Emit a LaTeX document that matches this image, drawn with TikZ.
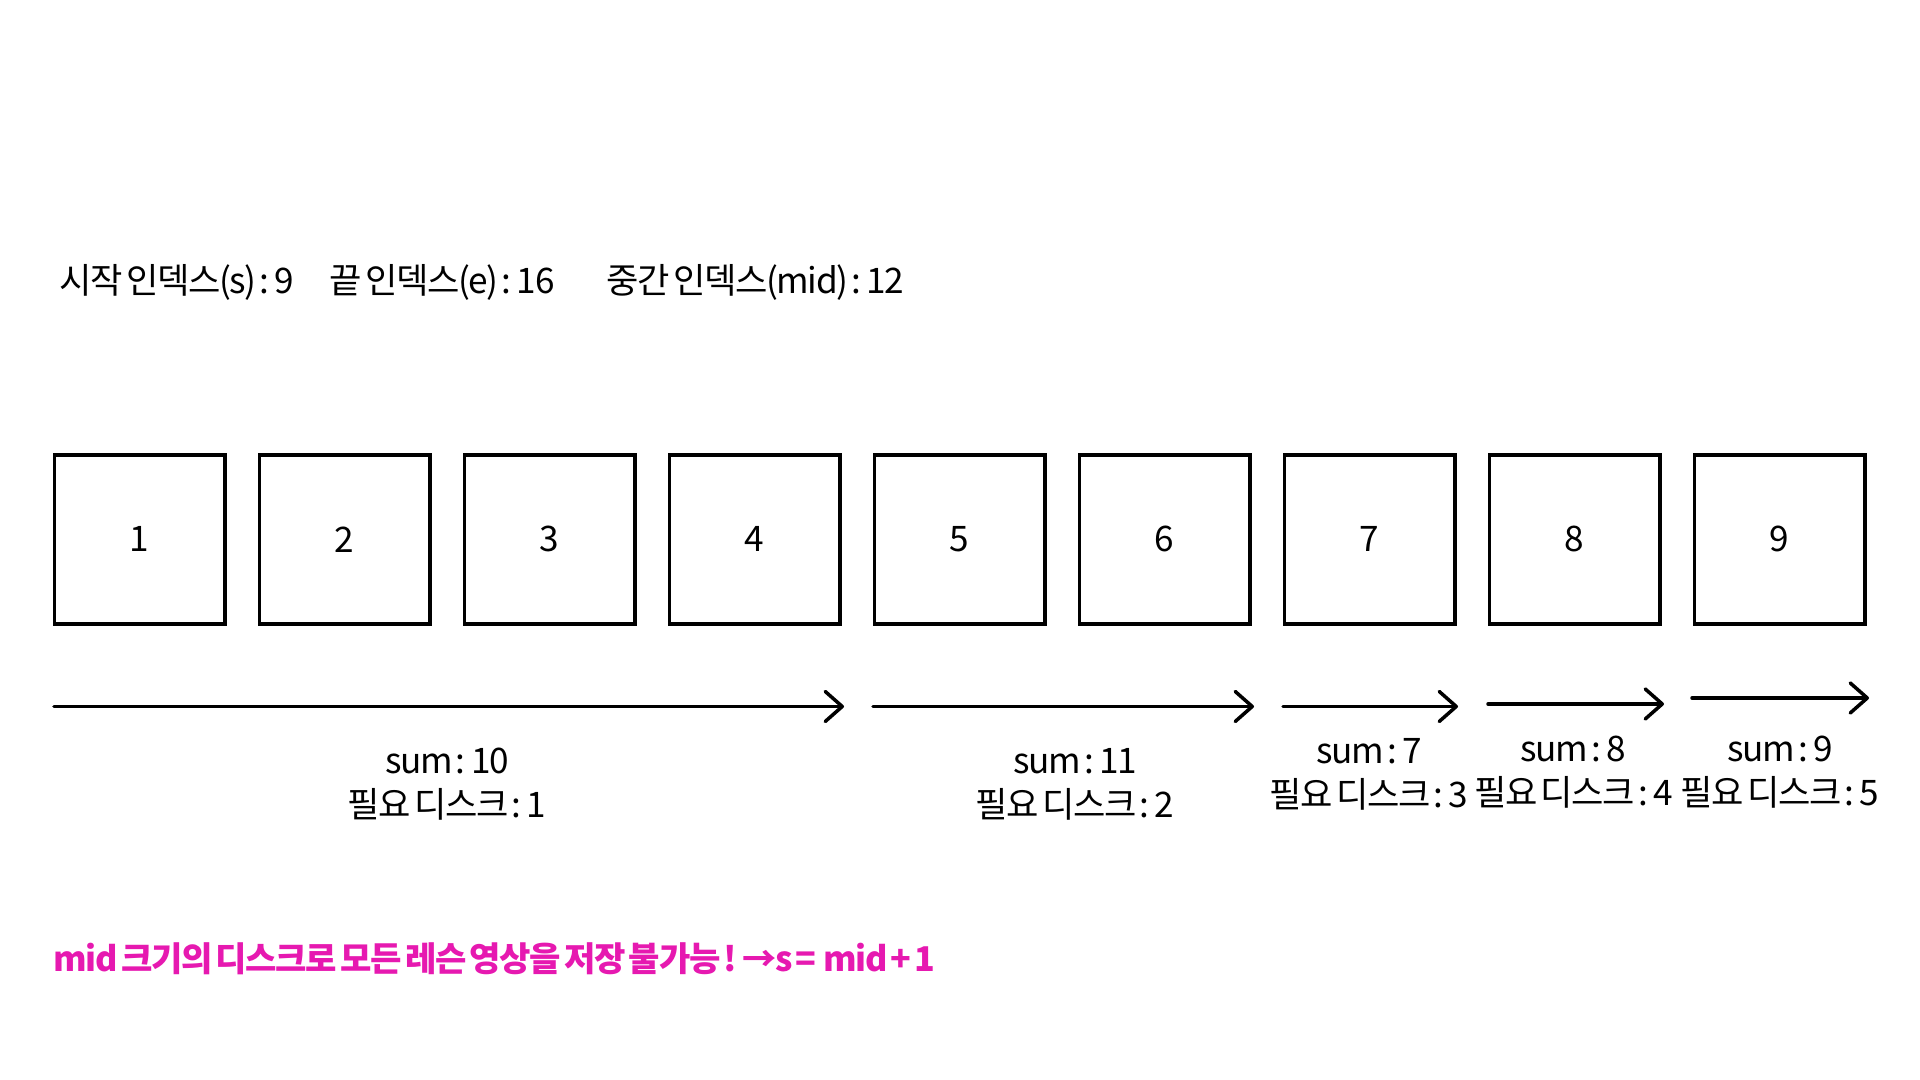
\documentclass[tikz,border=0pt]{standalone}
\usepackage{fontspec}
\setmainfont{Noto Sans CJK KR}[LetterSpace=-4, WordSpace=0.5]
\usetikzlibrary{arrows.meta, positioning, calc}
\definecolor{hotpink}{HTML}{E619B0}

\begin{document}
\begin{tikzpicture}[x=0.01cm, y=-0.01cm, >={Straight Barb[length=0.17cm, width=0.3cm, round]},
  every node/.style={font=\fontsize{10}{12.5}\selectfont},
  disk/.style={draw, line width=1pt, minimum width=1.705cm, minimum height=1.69cm, inner sep=0pt},
  span/.style={->, line width=1pt, line cap=round},
  info/.style={align=center, inner sep=0pt},
  head/.style={anchor=west, inner sep=0pt}]
\useasboundingbox (0,0) rectangle (1920,1080);

% indices
\node[head] (sIdx)   at (59,282)  {시작 인덱스(s) : 9};
\node[head] (eIdx)   at (329,282) {끝 인덱스(e) : 16};
\node[head] (midIdx) at (606,282) {중간 인덱스(mid) : 12};

% lessons
\foreach \i in {1,...,9}
  \node[disk] (b\i) at ({139.7+205*(\i-1)},539.4) {\i};

% disks
\coordinate (a1s) at (54,706.5);   \coordinate (a1e) at (844,706.5);
\coordinate (a2s) at (873,706.5);  \coordinate (a2e) at (1254,706.5);
\coordinate (a3s) at (1283,706.5); \coordinate (a3e) at (1458,706.5);
\coordinate (a4s) at (1488,704);   \coordinate (a4e) at (1664,704);
\coordinate (a5s) at (1692,698);   \coordinate (a5e) at (1869,698);
\draw[span] (a1s) -- (a1e);
\draw[span] (a2s) -- (a2e);
\draw[span] (a3s) -- (a3e);
\draw[span] (a4s) -- (a4e);
\draw[span] (a5s) -- (a5e);

\node[info] (d1) at (447,784)    {sum : 10\\필요 디스크 : 1};
\node[info] (d2) at (1075,784)   {sum : 11\\필요 디스크 : 2};
\node[info] (d3) at (1369,774.5) {sum : 7\\필요 디스크 : 3};
\node[info] (d4) at (1573.5,772) {sum : 8\\필요 디스크 : 4};
\node[info] (d5) at (1780,772)   {sum : 9\\필요 디스크 : 5};

% result
\node[head, text=hotpink, font=\fontsize{9.7}{12}\selectfont\bfseries] (note) at (53,959)
  {mid 크기의 디스크로 모든 레슨 영상을 저장 불가능 ! →s =\ \ mid + 1};
\end{tikzpicture}
\end{document}
